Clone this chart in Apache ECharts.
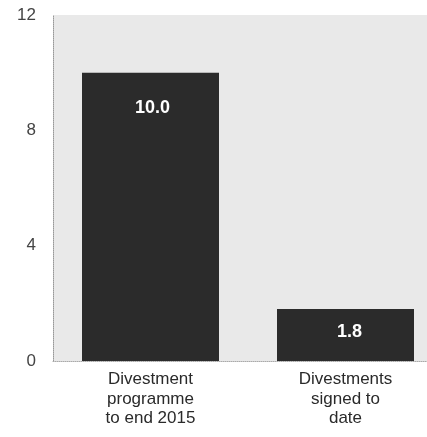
<!DOCTYPE html>
<html>
<head>
<meta charset="utf-8">
<script src="https://cdn.jsdelivr.net/npm/echarts@6/dist/echarts.min.js"></script>
<style>
  html, body { margin: 0; padding: 0; background: #fff; overflow: hidden; }
  /* plot runs past the right edge of the window, like the source scan */
  #chart { width: 443px; height: 437px; }
</style>
</head>
<body>
<div id="chart"></div>
<script>
/* Divestments chart data */
const categories = ["Divestment\nprogramme\nto end 2015", "Divestments\nsigned to\ndate"];
const values = [10.0, 1.8];
const valueLabels = ["10.0", "1.8"];
const yTicks = [0, 4, 8, 12];

const FONT = "'Liberation Sans', Arial, sans-serif";

const chart = echarts.init(document.getElementById("chart"));

chart.setOption({
  backgroundColor: "#fff",
  animation: false,
  grid: {
    left: 53,
    top: 15,
    right: 0,
    bottom: 76,
    show: true,
    backgroundColor: "#e9e9e9",
    borderWidth: 0
  },
  xAxis: {
    type: "category",
    data: categories,
    axisTick: { show: false },
    axisLine: { show: true, lineStyle: { color: "#aaa", type: "dotted", width: 1 } },
    axisLabel: {
      color: "#2a2a2a",
      fontFamily: FONT,
      fontSize: 17,
      lineHeight: 19.5,
      margin: 9,
      interval: 0
    }
  },
  yAxis: {
    type: "value",
    min: yTicks[0],
    max: yTicks[yTicks.length - 1],
    interval: 4,
    axisLine: { show: true, lineStyle: { color: "#999", type: "dotted", width: 1 } },
    axisTick: { show: false },
    splitLine: { show: false },
    axisLabel: {
      color: "#444",
      fontFamily: FONT,
      fontSize: 17,
      margin: 17
    }
  },
  series: [{
    type: "bar",
    barWidth: 137,
    data: values.map((v, i) => ({
      value: v,
      label: {
        show: true,
        formatter: valueLabels[i],
        position: i === 0 ? "insideTop" : "inside",
        distance: i === 0 ? 26 : 5,
        offset: i === 0 ? [2, 0] : [4, -3],
        color: "#fff",
        fontFamily: FONT,
        fontWeight: "bold",
        fontSize: 18
      }
    })),
    itemStyle: { color: "#2b2b2b" }
  }]
});
</script>
</body>
</html>
